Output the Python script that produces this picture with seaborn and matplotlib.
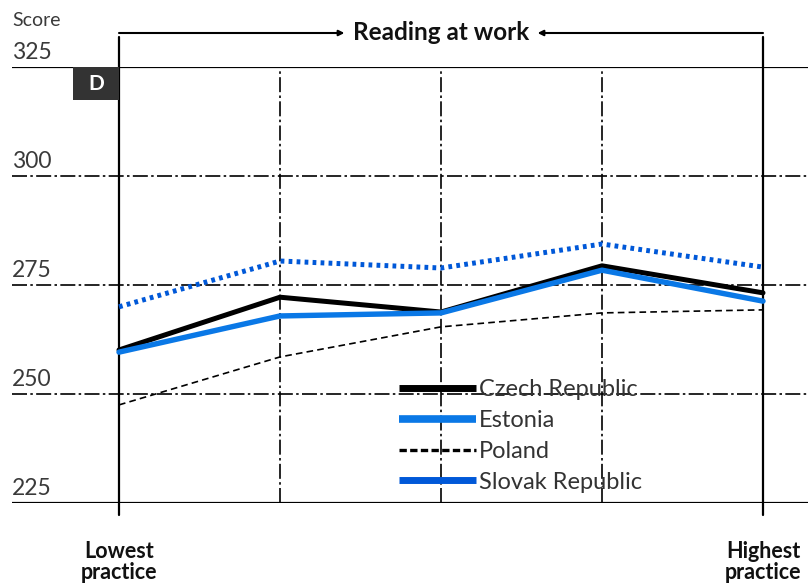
import numpy as np
import pandas as pd
import seaborn as sns
import matplotlib
matplotlib.use("Agg")
import matplotlib.pyplot as plt
from matplotlib.lines import Line2D
from matplotlib.patches import Rectangle
import matplotlib.transforms as mtransforms

# ---- data ----
positions = [0, 1, 2, 3, 4]
czech = [260.1, 272.2, 268.8, 279.4, 273.2]
estonia = [259.6, 267.9, 268.6, 278.4, 271.3]
poland = [247.5, 258.5, 265.4, 268.6, 269.3]
slovak = [270.0, 280.5, 278.9, 284.4, 279.1]
series_names = ["Czech Republic", "Estonia", "Poland", "Slovak Republic"]
yticks = [225, 250, 275, 300, 325]
x_labels = ["Lowest\npractice", "Highest\npractice"]
title = "Reading at work"
panel = "D"

sns.set_theme(style="white")
plt.rcParams['font.family'] = ['Lato', 'DejaVu Sans']

W, H = 808, 585
fig = plt.figure(figsize=(W / 100, H / 100), dpi=100)
# axes spanning from x=12px to right edge; y from 67px (325) to 503px (225)
ax = fig.add_axes([12 / W, (H - 503) / H, (W - 12) / W, (503 - 67) / H])
ax.set_ylim(225, 325)
ax.set_xlim(-107 / 161, (796 - 107) / 161)
ax.axis("off")

grid_kw = dict(color="black", lw=1.2, dashes=(9, 2, 1.5, 2), zorder=1)
lbl_tr = mtransforms.blended_transform_factory(ax.transAxes, ax.transData) + \
    mtransforms.ScaledTranslation(0, 3 / 72, fig.dpi_scale_trans)
for v in yticks:
    if v in (225, 325):
        ax.axhline(v, color="black", lw=1.6, zorder=1)
    else:
        ax.axhline(v, **grid_kw)
    ax.text(0.0, v, str(v), transform=lbl_tr,
            ha="left", va="bottom", fontsize=16.5, color="#3a3a3a")

for x in positions[1:-1]:
    ax.axvline(x, **grid_kw)

# outer vertical bracket lines (extend above and below plot)
bt = mtransforms.blended_transform_factory(ax.transData, fig.transFigure)
for x in (positions[0], positions[-1]):
    ax.add_line(Line2D([x, x], [1 - 515 / H, 1 - 37 / H], transform=bt, color="black",
                       lw=1.6, clip_on=False, zorder=2))

df = pd.DataFrame({"x": positions * 4,
                   "score": czech + estonia + poland + slovak,
                   "country": np.repeat(series_names, 5)})

styles = {
    "Czech Republic": dict(color="black", lw=3.6, ls="-"),
    "Estonia": dict(color="#0a78e6", lw=3.9, ls="-"),
    "Poland": dict(color="black", lw=1.2, ls=(0, (4, 2.5))),
    "Slovak Republic": dict(color="#0058d8", lw=3.6, ls=(0, (0.75, 0.85))),
}
for i, name in enumerate(series_names):
    st = styles[name]
    sns.lineplot(data=df[df.country == name], x="x", y="score", ax=ax, color=st["color"],
                 linewidth=st["lw"], linestyle=st["ls"], legend=False, zorder=3 + i,
                 errorbar=None)
ax.axis("off")

# legend
handles = [Line2D([], [], color="black", lw=5, solid_capstyle="butt"),
           Line2D([], [], color="#0a78e6", lw=5.5, solid_capstyle="butt"),
           Line2D([], [], color="black", lw=2.4, ls=(0, (2.2, 1)), dash_capstyle="butt"),
           Line2D([], [], color="#0058d8", lw=5.0, solid_capstyle="butt")]
leg = ax.legend(handles, series_names, loc="upper left",
                bbox_to_anchor=(399 / W, 1 - 379 / H), bbox_transform=fig.transFigure,
                frameon=False, fontsize=17, handlelength=3.25, handletextpad=0.12,
                labelspacing=0.42, borderaxespad=0, borderpad=0)
for t in leg.get_texts():
    t.set_color("#333333")

# title with arrows
ty = 1 - 33 / H
ax.text(2, ty, title, transform=bt, ha="center", va="center", fontsize=17.5,
        fontweight="bold", color="#111111")
ax.annotate("", xy=(1.40, ty), xytext=(0, ty), xycoords=bt, textcoords=bt,
            arrowprops=dict(arrowstyle="-|>", color="black", lw=1.5, mutation_scale=8,
                            shrinkA=0, shrinkB=0))
ax.annotate("", xy=(2.60, ty), xytext=(4, ty), xycoords=bt, textcoords=bt,
            arrowprops=dict(arrowstyle="-|>", color="black", lw=1.5, mutation_scale=8,
                            shrinkA=0, shrinkB=0))

# x labels
for px, lab in zip((positions[0], positions[-1]), x_labels):
    ax.text(px, 1 - 562 / H, lab, transform=bt, ha="center", va="center",
            fontsize=15.5, fontweight="bold", color="#111111", linespacing=1.05)

# Score label
fig.text(12 / W, 1 - 20 / H, "Score", ha="left", va="center", fontsize=14, color="#3a3a3a")

# panel box
fig.patches.append(Rectangle((73 / W, 1 - 100 / H), 46 / W, 33 / H, transform=fig.transFigure,
                             facecolor="#333333", edgecolor="none", zorder=5))
fig.text(96 / W, 1 - 84 / H, panel, ha="center", va="center", fontsize=15,
         fontweight="bold", color="white", zorder=6)

fig.savefig("out.png", dpi=100)
